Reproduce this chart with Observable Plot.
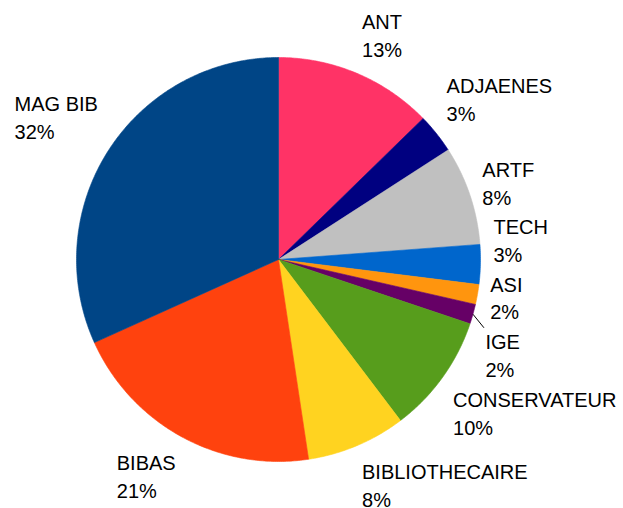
<!DOCTYPE html>
<html>
<head>
<meta charset="utf-8">
<script src="https://cdn.jsdelivr.net/npm/d3@7"></script>
<script src="https://cdn.jsdelivr.net/npm/@observablehq/plot@0.6"></script>
<style>
  html, body { margin: 0; padding: 0; background: #fff; }
  #chart svg { display: block; overflow: visible; }
</style>
</head>
<body>
<div id="chart"></div>
<script>
// ---- data ----
const categories = ["ANT", "ADJAENES", "ARTF", "TECH", "ASI", "IGE", "CONSERVATEUR", "BIBLIOTHECAIRE", "BIBAS", "MAG BIB"];
const counts = [8, 2, 5, 2, 1, 1, 6, 5, 13, 20];
const colors = ["#ff3366", "#000080", "#c0c0c0", "#0066cc", "#ff950e", "#660066", "#579d1c", "#ffd320", "#ff420e", "#004586"];

// ---- layout ----
const W = 623, H = 508;
const cx = 278, cy = 259, r = 202;
const labelR = r + 13;
const fontSize = 20, lineH = 27.8, ascentPad = 21.8, descentPad = 4.3, gap = 3.5;
const fontFamily = "'Liberation Sans', Arial, sans-serif";

const total = d3.sum(counts);
const rows = categories.map((name, i) => ({name, value: counts[i]}));
const arcs = d3.pie().sort(null).value(d => d.value)(rows);

const pt = (a, rad) => [cx + rad * Math.sin(a), cy - rad * Math.cos(a)];

// slice polygons
const poly = [];
arcs.forEach(a => {
  const name = a.data.name;
  poly.push({name, x: cx, y: cy});
  const n = Math.max(2, Math.ceil((a.endAngle - a.startAngle) / 0.01));
  for (let k = 0; k <= n; k++) {
    const ang = a.startAngle + (a.endAngle - a.startAngle) * k / n;
    const [x, y] = pt(ang, r);
    poly.push({name, x, y});
  }
  poly.push({name, x: cx, y: cy});
});

// label text measurement
const ctx = document.createElement("canvas").getContext("2d");
ctx.font = `${fontSize}px ${fontFamily}`;

const labels = arcs.map(a => {
  const mid = (a.startAngle + a.endAngle) / 2;
  const pct = Math.round(100 * a.data.value / total) + "%";
  const lines = [a.data.name, pct];
  const w = d3.max(lines, s => ctx.measureText(s).width);
  const h = ascentPad + lineH * (lines.length - 1) + descentPad;
  const [ax, ay] = pt(mid, labelR);
  let deg = 90 - mid * 180 / Math.PI; // math angle
  deg = ((deg % 360) + 360) % 360;
  let hAlign, vAlign;
  if (deg <= 22.5 || deg >= 337.5) { hAlign = "right"; vAlign = "center"; }
  else if (deg < 67.5) { hAlign = "right"; vAlign = "top"; }
  else if (deg < 112.5) { hAlign = "center"; vAlign = "top"; }
  else if (deg <= 157.5) { hAlign = "left"; vAlign = "top"; }
  else if (deg <= 202.5) { hAlign = "left"; vAlign = "center"; }
  else if (deg < 247.5) { hAlign = "left"; vAlign = "bottom"; }
  else if (deg < 292.5) { hAlign = "center"; vAlign = "bottom"; }
  else { hAlign = "right"; vAlign = "bottom"; }
  const left = hAlign === "right" ? ax : hAlign === "left" ? ax - w : ax - w / 2;
  const top = vAlign === "top" ? ay - h : vAlign === "bottom" ? ay : ay - h / 2;
  return {name: a.data.name, text: lines.join("\n"), mid, ax, ay, left, top, top0: top, h, w, side: Math.sin(mid) >= 0 ? 1 : -1};
});

// simple overlap resolution on each side
for (const side of [1, -1]) {
  const L = labels.filter(d => d.side === side);
  let pivot = -1;
  for (let i = 1; i < L.length; i++) {
    if (L[i].top < L[i - 1].top + L[i - 1].h + gap && L[i].top + L[i].h > L[i - 1].top) { pivot = i; break; }
  }
  if (pivot < 0) continue;
  for (let j = pivot - 1; j >= 0; j--) {
    const lim = L[j + 1].top - gap;
    if (L[j].top + L[j].h > lim) L[j].top = lim - L[j].h;
  }
  for (let j = pivot + 1; j < L.length; j++) {
    const lim = L[j - 1].top + L[j - 1].h + gap;
    if (L[j].top < lim) L[j].top = lim;
  }
}
labels.forEach(d => { d.tx = d.left; d.ty = d.top + d.h - descentPad; });

// leader lines where the label was moved clearly away from its anchor
const leaders = labels.filter(d => Math.abs(d.top - d.top0) > 5 && (d.ay < d.top - 3 || d.ay > d.top + d.h + 3)).map(d => {
  const [x1, y1] = pt(d.mid, r);
  const below = d.ay < d.top;
  return {x1, y1, x2: d.left - 1.5, y2: below ? d.top + 0.5 : d.top + d.h - 0.5};
});

const chart = Plot.plot({
  width: W,
  height: H,
  margin: 0,
  x: {domain: [0, W], range: [0, W], axis: null},
  y: {domain: [0, H], range: [0, H], axis: null},
  color: {domain: categories, range: colors},
  style: {fontFamily, background: "#fff"},
  marks: [
    Plot.line(poly, {x: "x", y: "y", z: "name", fill: "name", stroke: "name", strokeWidth: 0.6, curve: "linear"}),
    Plot.link(leaders, {x1: "x1", y1: "y1", x2: "x2", y2: "y2", stroke: "#000", strokeWidth: 1}),
    Plot.text(labels, {x: "tx", y: "ty", text: "text", textAnchor: "start", lineAnchor: "bottom", lineHeight: lineH / fontSize, fontSize, fontFamily, fill: "#000"})
  ]
});
document.getElementById("chart").appendChild(chart);
</script>
</body>
</html>
